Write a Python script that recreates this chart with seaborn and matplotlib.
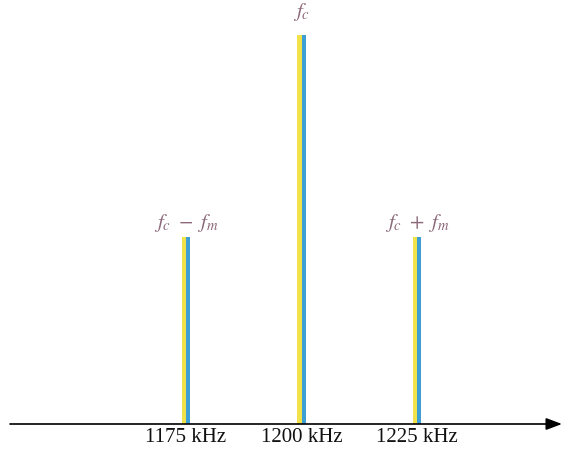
import matplotlib
matplotlib.use("Agg")
import matplotlib.pyplot as plt
import seaborn as sns
import pandas as pd

freqs_khz = [1175, 1200, 1225]
amplitudes = [0.48, 1.0, 0.48]
tick_labels = ["1175 kHz", "1200 kHz", "1225 kHz"]
line_labels = [r"$f_c\ -\ f_m$", r"$f_c$", r"$f_c\ +\ f_m$"]
halves = ["left", "right"]
colors = ["#f2e24a", "#3d9fd3"]

sns.set_theme(style="white")
plt.rcParams["mathtext.fontset"] = "stix"
plt.rcParams["font.family"] = ["Liberation Serif", "DejaVu Serif"]

rows = []
for f, a in zip(freqs_khz, amplitudes):
    for h in halves:
        rows.append({"freq": f, "amp": a, "half": h})
df = pd.DataFrame(rows)

fig = plt.figure(figsize=(5.76, 4.57), dpi=100)
ax = fig.add_axes([0, 0, 1, 1])

sns.barplot(data=df, x="freq", y="amp", hue="half", palette=colors,
            native_scale=True, dodge=True, width=0.075, legend=False,
            saturation=1, linewidth=0, ax=ax, errorbar=None)

# pixel mapping: x 186->1175, 417->1225 ; y 424->0, 35->1
xpp = 50 / 231.0
x0 = 1175 - 186 * xpp
x1 = x0 + 576 * xpp
ypp = 1.0 / 389.0
y0 = -(457 - 424) * ypp
y1 = 424 * ypp
ax.set_xlim(x0, x1)
ax.set_ylim(y0, y1)
ax.axis("off")

# axis arrow
ax.annotate("", xy=(x0 + 562 * xpp, 0), xytext=(x0 + 10 * xpp, 0),
            arrowprops=dict(arrowstyle="-|>,head_length=0.8,head_width=0.3",
                            color="black", lw=1.2, shrinkA=0, shrinkB=0))

for f, lab in zip(freqs_khz, tick_labels):
    ax.text(f, -14 * ypp, lab, ha="center", va="center", fontsize=15,
            color="#111111")

for f, a, lab in zip(freqs_khz, amplitudes, line_labels):
    off = 12 if a >= 1 else 3
    ax.text(f, a + off * ypp, lab, ha="center", va="bottom", fontsize=15,
            color="#8a6878")

fig.savefig("out.png", dpi=100)
